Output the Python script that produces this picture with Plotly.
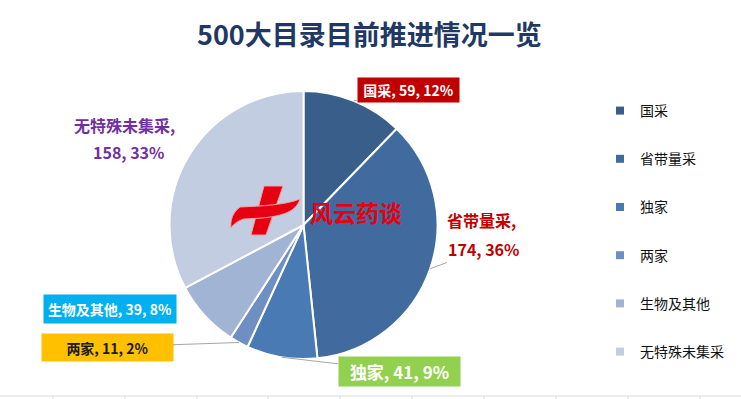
import math
import plotly.graph_objects as go

# ---- data ----
categories = ["国采", "省带量采", "独家", "两家", "生物及其他", "无特殊未集采"]
values = [59, 174, 41, 11, 39, 158]
percent_labels = ["12%", "36%", "9%", "2%", "8%", "33%"]
slice_colors = ["#3A5E8A", "#416B9E", "#4A7AB3", "#6F8FC2", "#A1B4D4", "#C2CDE1"]
title_text = "500大目录目前推进情况一览"

W, H = 741, 399
FONT = "Noto Sans CJK SC"

# pie geometry (pixels)
cx, cy, R = 303.5, 225.0, 134.0
dom_x = [(cx - R) / W, (cx + R) / W]
dom_y = [1 - (cy + R) / H, 1 - (cy - R) / H]

fig = go.Figure()

fig.add_trace(go.Pie(
    labels=categories,
    values=values,
    sort=False,
    direction="clockwise",
    rotation=0,
    marker=dict(colors=slice_colors, line=dict(color="white", width=2)),
    textinfo="none",
    hoverinfo="label+value+percent",
    showlegend=False,
    domain=dict(x=dom_x, y=dom_y),
))

# legend entries via dummy scatter traces (each in its own group for spacing)
for cat, col in zip(categories, slice_colors):
    fig.add_trace(go.Scatter(
        x=[None], y=[None], mode="markers", name=cat,
        legendgroup=cat,
        marker=dict(symbol="square", size=8, color=col),
        hoverinfo="skip",
    ))

# mid-angle point on slice edge, computed from data
total = sum(values)
def edge_point(i, r=R):
    start = sum(values[:i]) / total * 2 * math.pi
    end = sum(values[:i + 1]) / total * 2 * math.pi
    a = (start + end) / 2
    return cx + r * math.sin(a), cy - r * math.cos(a)

annotations = []
# single-line boxed labels
boxed = {
    0: dict(pos=(408, 90), bg="#C00000", fc="white", fs=14, w=101, h=24, line=True),
    2: dict(pos=(399, 371), bg="#92D050", fc="white", fs=17, w=121, h=29, line=True),
    3: dict(pos=(107, 347), bg="#FFC000", fc="#1a1a1a", fs=14, w=131, h=27, line=True),
    4: dict(pos=(110, 309), bg="#00B0F0", fc="white", fs=14, w=132, h=28, line=False),
}
for i, s in boxed.items():
    txt = f"<b>{categories[i]}, {values[i]}, {percent_labels[i]}</b>"
    ann = dict(
        text=txt, xref="x", yref="y",
        font=dict(family=FONT, size=s["fs"], color=s["fc"]),
        align="center", borderpad=0, bgcolor=s["bg"],
        width=s["w"], height=s["h"], valign="middle",
    )
    if s["line"]:
        px, py = edge_point(i)
        ann.update(x=px, y=py, showarrow=True, axref="x", ayref="y",
                   ax=s["pos"][0], ay=s["pos"][1], arrowhead=0,
                   arrowwidth=1, arrowcolor="#A6A6A6", standoff=0, startstandoff=0)
    else:
        ann.update(x=s["pos"][0], y=s["pos"][1], showarrow=False)
    annotations.append(ann)

# two-line plain labels (category line, value line)
twoline = {
    1: dict(pos=(481, 220), pos2=(483, 249), fc="#C00000", fs=16, line=True),
    5: dict(pos=(124, 125), pos2=(128, 152), fc="#7030A0", fs=16, line=False),
}
for i, s in twoline.items():
    annotations.append(dict(
        text=f"<b>{categories[i]},</b>", xref="x", yref="y",
        x=s["pos"][0], y=s["pos"][1], showarrow=False,
        font=dict(family=FONT, size=s["fs"], color=s["fc"]),
    ))
    ann = dict(
        text=f"<b>{values[i]}, {percent_labels[i]}</b>", xref="x", yref="y",
        font=dict(family=FONT, size=s["fs"], color=s["fc"]),
    )
    if s["line"]:
        px, py = edge_point(i)
        ann.update(x=px, y=py, showarrow=True, axref="x", ayref="y",
                   ax=s["pos2"][0], ay=s["pos2"][1], arrowhead=0,
                   arrowwidth=1, arrowcolor="#A6A6A6", standoff=0, startstandoff=0)
    else:
        ann.update(x=s["pos2"][0], y=s["pos2"][1], showarrow=False)
    annotations.append(ann)

# watermark text
annotations.append(dict(
    text="<b>风云药谈</b>", xref="x", yref="y", x=356, y=212, showarrow=False,
    font=dict(family=FONT, size=23, color="#E60012"),
))

# title
annotations.append(dict(
    text="<b>" + title_text + "</b>", xref="x", yref="y", x=369, y=33,
    showarrow=False, font=dict(family=FONT, size=27, color="#1F3864"),
))

shapes = []
# watermark cross logo
shapes.append(dict(type="path", xref="x", yref="y",
                   path="M 264,186 L 283,186 L 266,235 L 251,235 Z",
                   fillcolor="#E60012", line=dict(color="#F4A0A0", width=1)))
shapes.append(dict(type="path", xref="x", yref="y",
                   path="M 240,207 C 262,206 285,205 300,199 C 296,212 282,216 262,218 L 244,219 C 237,221 233,225 231,228 C 230,220 233,212 240,207 Z",
                   fillcolor="#E60012", line=dict(color="#F4A0A0", width=1)))

# bottom grid line (spreadsheet border)
shapes.append(dict(type="line", xref="x", yref="y", x0=0, x1=W, y0=396, y1=396,
                   line=dict(color="#D9D9D9", width=1)))
for tx in [53, 125, 197, 268, 340, 412, 484, 556, 628, 700]:
    shapes.append(dict(type="line", xref="x", yref="y", x0=tx, x1=tx, y0=396, y1=399,
                       line=dict(color="#D9D9D9", width=1)))

fig.update_layout(
    width=W, height=H,
    margin=dict(l=0, r=0, t=0, b=0),
    paper_bgcolor="white", plot_bgcolor="white",
    xaxis=dict(range=[0, W], domain=[0, 1], visible=False, fixedrange=True),
    yaxis=dict(range=[H, 0], domain=[0, 1], visible=False, fixedrange=True),
    annotations=annotations,
    shapes=shapes,
    showlegend=True,
    legend=dict(
        x=600 / W, y=1 - 95 / H, xanchor="left", yanchor="top",
        font=dict(family=FONT, size=14, color="#111111"),
        tracegroupgap=27, bgcolor="rgba(0,0,0,0)", itemwidth=30,
    ),
)

fig.write_html(
    "out.html",
    config={"displayModeBar": False},
    post_script="document.body.style.margin='0';document.body.style.overflow='hidden';",
)
